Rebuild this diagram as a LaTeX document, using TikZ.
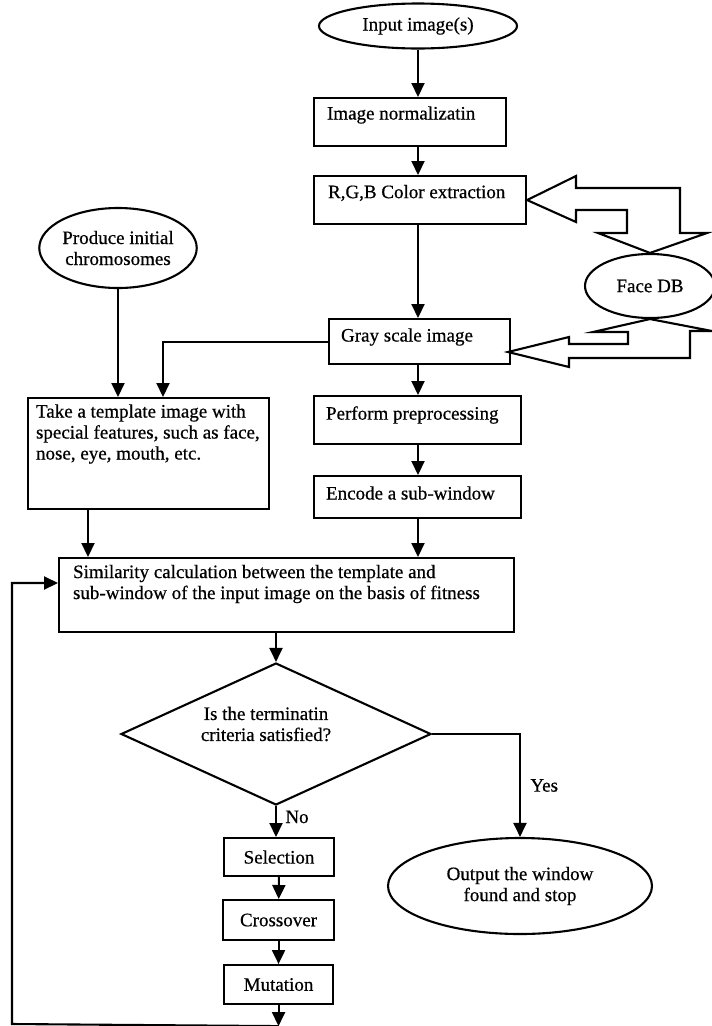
\documentclass[tikz,border=0pt]{standalone}
\usepackage{fontspec}
\setmainfont{Liberation Serif}[FakeBold=0.6]
\usetikzlibrary{calc,shapes.geometric,arrows.meta}

\begin{document}
\begin{tikzpicture}[x=1pt,y=-1pt,line width=2.1pt,
  font=\fontsize{19}{21}\selectfont,
  box/.style={draw,rectangle,anchor=north west,inner sep=0pt},
  oval/.style={draw,ellipse,inner sep=0pt,align=center},
  txt/.style={anchor=west,inner sep=0pt,align=left},
  arr/.style={-{Triangle[length=14pt,width=13pt]}},
  blk/.style={draw,fill=white,line width=2.1pt,line join=miter}]
  \useasboundingbox (0,0) rectangle (712,1026);

  % right column
  \node[oval, minimum width=198, minimum height=45] (inp) at (418,26) {Input image(s)};
  \node[box, minimum width=192, minimum height=48] (norm) at (313,97) {};
  \node[txt] (normT) at ($(norm.north west)+(13,18)$) {Image normalizatin};
  \node[box, minimum width=212, minimum height=48] (rgb) at (313,175) {};
  \node[txt] (rgbT) at ($(rgb.north west)+(14,18)$) {R,G,B Color extraction};
  \node[box, minimum width=181, minimum height=45] (gray) at (328,318) {};
  \node[txt] (grayT) at ($(gray.north west)+(12,19)$) {Gray scale image};
  \node[box, minimum width=207, minimum height=48] (perf) at (313,395) {};
  \node[txt] (perfT) at ($(perf.north west)+(12,20)$) {Perform preprocessing};
  \node[box, minimum width=207, minimum height=42] (enc) at (313,475) {};
  \node[txt] (encT) at ($(enc.north west)+(12,18)$) {Encode a sub-window};
  \node[oval, minimum width=130, minimum height=64] (db) at (650,286) {Face DB};

  % left column
  \node[oval, minimum width=150, minimum height=80] (chrom) at (118,248) {Produce initial\\chromosomes};
  \node[box, minimum width=241, minimum height=111] (tpl) at (27,397) {};
  \node[txt] (tplT) at ($(tpl.north west)+(8,37)$) {Take a template image with\\special features, such as face,\\nose, eye, mouth, etc.};

  \node[box, minimum width=455, minimum height=74] (sim) at (58,557) {};
  \node[txt] (simT) at ($(sim.north west)+(14,27)$) {Similarity calculation between the template and\\sub-window of the input image on the basis of fitness};

  % loop
  \node[draw, diamond, inner sep=0pt, minimum width=310, minimum height=142] (dia) at (276,734) {};
  \node[inner sep=0pt, align=center] (diaT) at (266,724) {Is the terminatin\\criteria satisfied?};
  \node[box, minimum width=110, minimum height=38] (sel) at (223,837) {Selection};
  \node[box, minimum width=111, minimum height=40] (cross) at (222,899) {Crossover};
  \node[box, minimum width=109, minimum height=39] (mut) at (223,964) {Mutation};
  \node[oval, minimum width=264, minimum height=96] (out) at (520,886) {Output the window\\found and stop};

  \coordinate (loopR) at ($(mut.south)+(0,21)$);
  \coordinate (loopL) at (12,1024);

  \draw[arr] (inp) -- (inp |- norm.north);
  \draw[arr] (norm.south -| inp) -- (rgb.north -| inp);
  \draw[arr] (rgb.south -| inp) -- (gray.north -| inp);
  \draw[arr] (gray.south -| inp) -- (perf.north -| inp);
  \draw[arr] (perf.south -| inp) -- (enc.north -| inp);
  \draw[arr] (enc.south -| inp) -- (sim.north -| inp);

  \draw[arr] (chrom) -- (chrom |- tpl.north);
  \draw[arr] (gray.west) -| ($(tpl.north west)+(136,0)$);
  \draw[arr] ($(tpl.south west)+(61,0)$) -- ($(sim.north west)+(30,0)$);

  \draw[arr] (sim.south -| dia.north) -- (dia.north);
  \draw[arr] (dia.east) -| node[pos=0.75, right, xshift=6pt] {Yes} (out.north);
  \draw[arr] (dia.south) -- node[pos=0.35, right, xshift=5pt] {No} (sel.north -| dia.south);
  \draw[arr] (sel) -- (cross);
  \draw[arr] (cross) -- (mut);
  \draw[arr] (mut.south) -- (loopR);
  \draw[arr] (loopR) -- (loopL) |- ($(sim.north west)+(0,26)$);

  % block arrows to and from the face DB
  \draw[blk] (rgb.east) -- (576,176) -- (576,188) -- (680,188) -- (680,233) -- (707,233)
    -- (db.north) -- (598,233) -- (627,233) -- (627,210) -- (576,210) -- (576,222) -- cycle;
  \draw[blk] (508,352) -- (569,337) -- (569,344) -- (628,344) -- (628,332) -- (593,332)
    -- (db.south) -- (712,331) -- (690,331) -- (690,358) -- (569,358) -- (569,367) -- cycle;
\end{tikzpicture}
\end{document}
